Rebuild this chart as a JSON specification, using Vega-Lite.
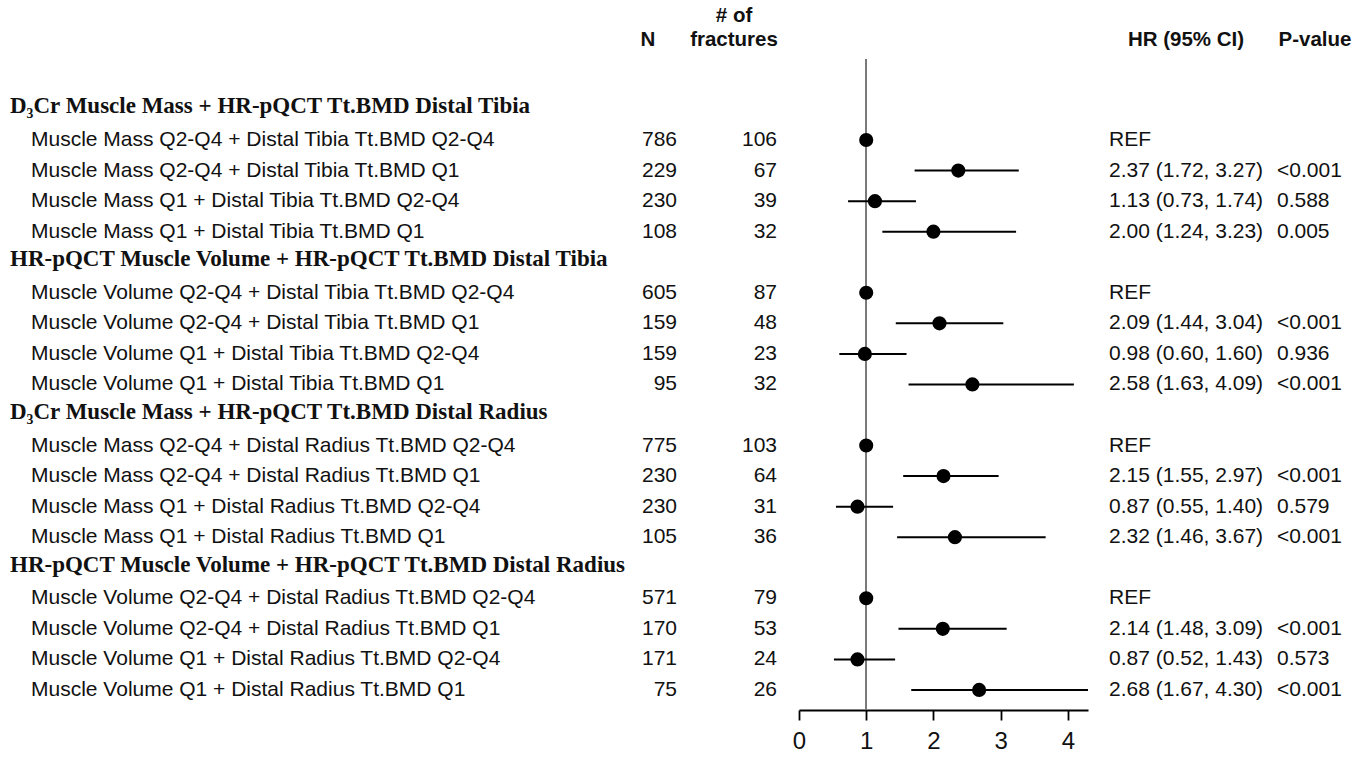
{
  "$schema": "https://vega.github.io/schema/vega-lite/v6.json",
  "background": "white",
  "padding": 0,
  "spacing": 0,
  "bounds": "flush",
  "config": {"view": {"stroke": null}, "text": {"font": "Liberation Sans", "fontSize": 21, "color": "#111"}},
  "datasets": {
    "headers": [
      {"row": 0, "label": "D₃Cr Muscle Mass + HR-pQCT Tt.BMD Distal Tibia"},
      {"row": 5, "label": "HR-pQCT Muscle Volume + HR-pQCT Tt.BMD Distal Tibia"},
      {"row": 10, "label": "D₃Cr Muscle Mass + HR-pQCT Tt.BMD Distal Radius"},
      {"row": 15, "label": "HR-pQCT Muscle Volume + HR-pQCT Tt.BMD Distal Radius"}
    ],
    "rows": [
      {"row": 1, "label": "Muscle Mass Q2-Q4 + Distal Tibia Tt.BMD Q2-Q4", "n": 786, "fx": 106, "hr": 1, "lo": null, "hi": null, "hrtext": "REF", "p": ""},
      {"row": 2, "label": "Muscle Mass Q2-Q4 + Distal Tibia Tt.BMD Q1", "n": 229, "fx": 67, "hr": 2.37, "lo": 1.72, "hi": 3.27, "hrtext": "2.37 (1.72, 3.27)", "p": "<0.001"},
      {"row": 3, "label": "Muscle Mass Q1 + Distal Tibia Tt.BMD Q2-Q4", "n": 230, "fx": 39, "hr": 1.13, "lo": 0.73, "hi": 1.74, "hrtext": "1.13 (0.73, 1.74)", "p": "0.588"},
      {"row": 4, "label": "Muscle Mass Q1 + Distal Tibia Tt.BMD Q1", "n": 108, "fx": 32, "hr": 2.0, "lo": 1.24, "hi": 3.23, "hrtext": "2.00 (1.24, 3.23)", "p": "0.005"},
      {"row": 6, "label": "Muscle Volume Q2-Q4 + Distal Tibia Tt.BMD Q2-Q4", "n": 605, "fx": 87, "hr": 1, "lo": null, "hi": null, "hrtext": "REF", "p": ""},
      {"row": 7, "label": "Muscle Volume Q2-Q4 + Distal Tibia Tt.BMD Q1", "n": 159, "fx": 48, "hr": 2.09, "lo": 1.44, "hi": 3.04, "hrtext": "2.09 (1.44, 3.04)", "p": "<0.001"},
      {"row": 8, "label": "Muscle Volume Q1 + Distal Tibia Tt.BMD Q2-Q4", "n": 159, "fx": 23, "hr": 0.98, "lo": 0.6, "hi": 1.6, "hrtext": "0.98 (0.60, 1.60)", "p": "0.936"},
      {"row": 9, "label": "Muscle Volume Q1 + Distal Tibia Tt.BMD Q1", "n": 95, "fx": 32, "hr": 2.58, "lo": 1.63, "hi": 4.09, "hrtext": "2.58 (1.63, 4.09)", "p": "<0.001"},
      {"row": 11, "label": "Muscle Mass Q2-Q4 + Distal Radius Tt.BMD Q2-Q4", "n": 775, "fx": 103, "hr": 1, "lo": null, "hi": null, "hrtext": "REF", "p": ""},
      {"row": 12, "label": "Muscle Mass Q2-Q4 + Distal Radius Tt.BMD Q1", "n": 230, "fx": 64, "hr": 2.15, "lo": 1.55, "hi": 2.97, "hrtext": "2.15 (1.55, 2.97)", "p": "<0.001"},
      {"row": 13, "label": "Muscle Mass Q1 + Distal Radius Tt.BMD Q2-Q4", "n": 230, "fx": 31, "hr": 0.87, "lo": 0.55, "hi": 1.4, "hrtext": "0.87 (0.55, 1.40)", "p": "0.579"},
      {"row": 14, "label": "Muscle Mass Q1 + Distal Radius Tt.BMD Q1", "n": 105, "fx": 36, "hr": 2.32, "lo": 1.46, "hi": 3.67, "hrtext": "2.32 (1.46, 3.67)", "p": "<0.001"},
      {"row": 16, "label": "Muscle Volume Q2-Q4 + Distal Radius Tt.BMD Q2-Q4", "n": 571, "fx": 79, "hr": 1, "lo": null, "hi": null, "hrtext": "REF", "p": ""},
      {"row": 17, "label": "Muscle Volume Q2-Q4 + Distal Radius Tt.BMD Q1", "n": 170, "fx": 53, "hr": 2.14, "lo": 1.48, "hi": 3.09, "hrtext": "2.14 (1.48, 3.09)", "p": "<0.001"},
      {"row": 18, "label": "Muscle Volume Q1 + Distal Radius Tt.BMD Q2-Q4", "n": 171, "fx": 24, "hr": 0.87, "lo": 0.52, "hi": 1.43, "hrtext": "0.87 (0.52, 1.43)", "p": "0.573"},
      {"row": 19, "label": "Muscle Volume Q1 + Distal Radius Tt.BMD Q1", "n": 75, "fx": 26, "hr": 2.68, "lo": 1.67, "hi": 4.3, "hrtext": "2.68 (1.67, 4.30)", "p": "<0.001"}
    ]
  },
  "hconcat": [
    {
      "width": 799,
      "height": 710,
      "layer": [
        {
          "data": {"name": "headers"},
          "mark": {"type": "text", "align": "left", "baseline": "middle", "font": "Liberation Serif", "fontWeight": "bold", "fontSize": 23, "dy": -3},
          "encoding": {
            "x": {"datum": 10, "type": "quantitative", "scale": {"domain": [0, 799], "nice": false, "zero": false}, "axis": null},
            "y": {"field": "row", "type": "quantitative", "scale": {"domain": [-3.584, 19.657], "reverse": true, "nice": false, "zero": false}, "axis": null},
            "text": {"field": "label"}
          }
        },
        {
          "data": {"name": "rows"},
          "mark": {"type": "text", "align": "left", "baseline": "middle"},
          "encoding": {
            "x": {"datum": 31, "type": "quantitative"},
            "y": {"field": "row", "type": "quantitative"},
            "text": {"field": "label"}
          }
        },
        {
          "data": {"name": "rows"},
          "mark": {"type": "text", "align": "right", "baseline": "middle"},
          "encoding": {
            "x": {"datum": 677, "type": "quantitative"},
            "y": {"field": "row", "type": "quantitative"},
            "text": {"field": "n"}
          }
        },
        {
          "data": {"name": "rows"},
          "mark": {"type": "text", "align": "right", "baseline": "middle"},
          "encoding": {
            "x": {"datum": 777, "type": "quantitative"},
            "y": {"field": "row", "type": "quantitative"},
            "text": {"field": "fx"}
          }
        },
        {
          "data": {"values": [{"t": "N", "px": 648, "py": -2.275}, {"t": "fractures", "px": 734, "py": -2.275}, {"t": "# of", "px": 734, "py": -3.044}]},
          "mark": {"type": "text", "align": "center", "baseline": "middle", "fontWeight": "bold", "fontSize": 20.5},
          "encoding": {
            "x": {"field": "px", "type": "quantitative"},
            "y": {"field": "py", "type": "quantitative"},
            "text": {"field": "t"}
          }
        }
      ]
    },
    {
      "width": 289,
      "height": 710,
      "data": {"name": "rows"},
      "layer": [
        {
          "mark": {"type": "rule", "color": "#7a7a7a", "strokeWidth": 1.5},
          "encoding": {
            "x": {"datum": 1, "type": "quantitative", "scale": {"domain": [0, 4.3], "nice": false, "zero": false},
              "axis": {"values": [0, 1, 2, 3, 4], "format": "d", "title": null, "grid": false, "domainColor": "#000", "domainWidth": 1.8, "tickColor": "#000", "tickWidth": 1.8, "tickSize": 10, "labelFont": "Liberation Sans", "labelFontSize": 24, "labelColor": "#111", "labelPadding": 9, "labelFlush": false}},
            "y": {"datum": -1.653, "type": "quantitative", "scale": {"domain": [-3.584, 19.657], "reverse": true, "nice": false, "zero": false}, "axis": null},
            "y2": {"datum": 19.657}
          }
        },
        {
          "transform": [{"filter": "datum.lo != null"}],
          "mark": {"type": "rule", "color": "#000", "strokeWidth": 2},
          "encoding": {
            "x": {"field": "lo", "type": "quantitative"},
            "x2": {"field": "hi"},
            "y": {"field": "row", "type": "quantitative"}
          }
        },
        {
          "mark": {"type": "point", "filled": true, "color": "#000", "opacity": 1, "size": 200, "shape": "circle"},
          "encoding": {
            "x": {"field": "hr", "type": "quantitative"},
            "y": {"field": "row", "type": "quantitative"}
          }
        }
      ]
    },
    {
      "width": 279,
      "height": 710,
      "layer": [
        {
          "data": {"name": "rows"},
          "mark": {"type": "text", "align": "left", "baseline": "middle"},
          "encoding": {
            "x": {"datum": 21, "type": "quantitative", "scale": {"domain": [0, 279], "nice": false, "zero": false}, "axis": null},
            "y": {"field": "row", "type": "quantitative", "scale": {"domain": [-3.584, 19.657], "reverse": true, "nice": false, "zero": false}, "axis": null},
            "text": {"field": "hrtext"}
          }
        },
        {
          "data": {"name": "rows"},
          "mark": {"type": "text", "align": "left", "baseline": "middle"},
          "encoding": {
            "x": {"datum": 189, "type": "quantitative"},
            "y": {"field": "row", "type": "quantitative"},
            "text": {"field": "p"}
          }
        },
        {
          "data": {"values": [{"t": "HR (95% CI)", "px": 98, "py": -2.275}, {"t": "P-value", "px": 227, "py": -2.275}]},
          "mark": {"type": "text", "align": "center", "baseline": "middle", "fontWeight": "bold", "fontSize": 20.5},
          "encoding": {
            "x": {"field": "px", "type": "quantitative"},
            "y": {"field": "py", "type": "quantitative"},
            "text": {"field": "t"}
          }
        }
      ]
    }
  ]
}
